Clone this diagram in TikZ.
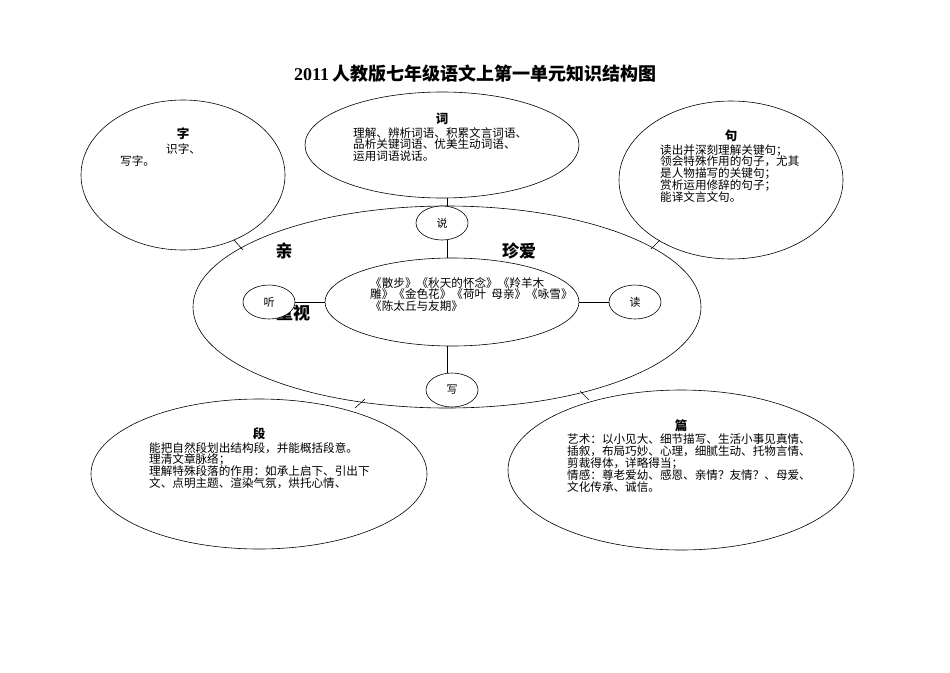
\documentclass[tikz,border=0pt]{standalone}
\usepackage{fontspec}
\setmainfont{Liberation Serif}
\newfontfamily\cjk{Noto Sans CJK SC}
\usetikzlibrary{shapes.geometric}
\begin{document}
\begin{tikzpicture}[x=1pt,y=-1pt,
  ell/.style={draw,line width=0.6pt,fill=white},
  body/.style={font=\cjk\fontsize{11.6}{11.8}\selectfont,align=left,anchor=north west,inner sep=0pt},
  head/.style={font=\cjk\bfseries\fontsize{12.5}{13}\selectfont,inner sep=0pt},
  big/.style={font=\cjk\bfseries\fontsize{17}{18}\selectfont,inner sep=0pt},
  small/.style={font=\cjk\fontsize{11}{11}\selectfont,inner sep=0pt},
  con/.style={line width=0.6pt}]
\useasboundingbox (0,0) rectangle (950,672);
\node[font=\bfseries\fontsize{18}{20}\selectfont,inner sep=0pt] (title) at (475,74) {2011\,{\cjk 人教版七年级语文上第一单元知识结构图}};
% outer ellipses
\draw[ell] (447,307) ellipse [x radius=254,y radius=101];
\draw[ell] (183,175) ellipse [x radius=102,y radius=75];
\draw[ell] (442,145) ellipse [x radius=137,y radius=53];
\draw[ell] (731,180) ellipse [x radius=112,y radius=79];
\draw[ell] (259,474) ellipse [x radius=168,y radius=75];
\draw[ell] (681,470) ellipse [x radius=173,y radius=80];
% ticks
\draw[con] (234,240) -- (243,250);
\draw[con] (651,249) -- (660,240);
\draw[con] (355,408) -- (365,399);
\draw[con] (580,391) -- (589,400);
% central
\node[big] (qin) at (284,251) {亲};
\node[big] (zhenai) at (519,251) {珍爱};
\node[big] (zhongshi) at (293,313) {重视};
\node[ell,ellipse,minimum width=254pt,minimum height=88pt] (center) at (452,302) {};
\node[body,anchor=north west] at (370,277) {《散步》《秋天的怀念》《羚羊木\\雕》《金色花》《荷叶\ \ 母亲》《咏雪》\\《陈太丘与友期》};
\node[ell,ellipse,minimum width=52pt,minimum height=34pt,small] (shuo) at (442,223) {说};
\node[ell,ellipse,minimum width=52pt,minimum height=34pt,small] (ting) at (269,302) {听};
\node[ell,ellipse,minimum width=52pt,minimum height=34pt,small] (du) at (635,302) {读};
\node[ell,ellipse,minimum width=52pt,minimum height=34pt,small] (xie) at (452,390) {写};
\coordinate (ci) at (447,198);
\draw[con] (ci) -- (447,206);
\draw[con] (447,240) -- (447,258);
\draw[con] (center.west) -- (ting.east);
\draw[con] (center.east) -- (du.west);
\draw[con] (447,346) -- (447,373);
% texts
\node[head] at (183,134) {字};
\node[body] at (166,143) {识字、};
\node[body] at (120,155) {写字。};
\node[head] at (442,119) {词};
\node[body] at (353,127) {理解、辨析词语、积累文言词语、\\品析关键词语、优美生动词语、\\运用词语说话。};
\node[head] at (731,136) {句};
\node[body] at (660,144) {读出并深刻理解关键句；\\领会特殊作用的句子，尤其\\是人物描写的关键句；\\赏析运用修辞的句子；\\能译文言文句。};
\node[head] at (259,434) {段};
\node[body] at (149,442) {能把自然段划出结构段，并能概括段意。\\理清文章脉络；\\理解特殊段落的作用：如承上启下、引出下\\文、点明主题、渲染气氛，烘托心情、};
\node[head] at (681,426) {篇};
\node[body] at (567,434) {艺术：以小见大、细节描写、生活小事见真情、\\插叙，布局巧妙、心理，细腻生动、托物言情、\\剪裁得体，详略得当；\\情感：尊老爱幼、感恩、亲情？友情？、母爱、\\文化传承、诚信。};
\end{tikzpicture}
\end{document}
